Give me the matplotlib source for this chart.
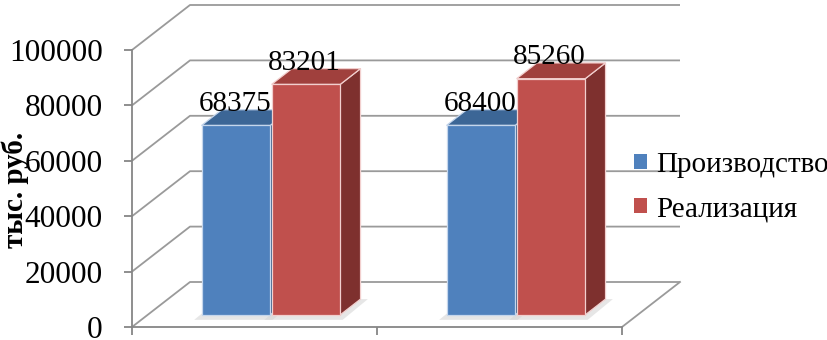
import matplotlib
matplotlib.use('Agg')
import matplotlib.pyplot as plt
from matplotlib.patches import Polygon, Patch

# ---- data ----
categories = ['', '']
series_names = ['Производство', 'Реализация']
production = [68375, 68400]
sales = [83201, 85260]
yticks = [0, 20000, 40000, 60000, 80000, 100000]
ytick_labels = ['0', '20000', '40000', '60000', '80000', '100000']
ylabel = 'тыс. руб.'

plt.rcParams['font.family'] = ['Liberation Serif', 'DejaVu Serif']

W, H = 828, 340
fig = plt.figure(figsize=(W / 100, H / 100), dpi=100)

# frame geometry (pixels)
x_left, x_right = 132, 680
y_bottom, y_top = 327, 5
px_per_cat = 245.0
px_per_unit = 277.0 / 100000
back_dx_px, back_dy_px = 58, 45

ax = fig.add_axes([x_left / W, 1 - y_bottom / H, (x_right - x_left) / W, (y_bottom - y_top) / H])
ymax = (y_bottom - y_top) / px_per_unit
xmin = -0.5
xmax = xmin + (x_right - x_left) / px_per_cat
ax.set_xlim(xmin, xmax)
ax.set_ylim(0, ymax)
ax.set_facecolor('none')

bdx = back_dx_px / px_per_cat
bdy = back_dy_px / px_per_unit
ncat = len(categories)
x_lo, x_hi = -0.5, ncat - 0.5

grid_c = '#9a9a9a'
# walls / gridlines
for v in yticks:
    ax.plot([x_lo, x_lo + bdx, x_hi + bdx], [v, v + bdy, v + bdy], color=grid_c, lw=1.3,
            zorder=1, clip_on=False, solid_capstyle='butt')
# floor right edge
ax.plot([x_hi, x_hi + bdx], [0, bdy], color=grid_c, lw=1.3, zorder=1, clip_on=False)

# ---- bars ----
t1, t2 = 0.27, 0.62
w = 0.28
colors = {
    0: dict(front='#4F81BD', top='#3C6696', side='#345A86', edge='#C5D6EC'),
    1: dict(front='#C0504D', top='#A0403D', side='#7E302E', edge='#F2CFCE'),
}
series = [production, sales]


def P(x, y, t):
    return (x + t * bdx, y + t * bdy)


for i in range(ncat):
    for s, vals in enumerate(series):
        v = vals[i]
        x0 = i - w + s * (w + 0.006)
        x1 = x0 + w
        c = colors[s]
        # floor shadow
        sh = [P(x0 - 0.03, -1800, t1), P(x1 + 0.01, -1800, t1), P(x1 + 0.03, 0, t2), P(x0 - 0.01, 0, t2)]
        ax.add_patch(Polygon(sh, closed=True, facecolor='#d6d6d6', edgecolor='none', alpha=0.6, zorder=2))
        side = [P(x1, 0, t1), P(x1, 0, t2), P(x1, v, t2), P(x1, v, t1)]
        top = [P(x0, v, t1), P(x1, v, t1), P(x1, v, t2), P(x0, v, t2)]
        front = [P(x0, 0, t1), P(x1, 0, t1), P(x1, v, t1), P(x0, v, t1)]
        for poly, fc in ((side, c['side']), (top, c['top']), (front, c['front'])):
            ax.add_patch(Polygon(poly, closed=True, facecolor=fc, edgecolor=c['edge'],
                                 lw=0.9, zorder=3 + i * 2 + s * 0.5, joinstyle='miter'))
        xc = (x0 + x1) / 2
        lx, ly = P(xc, v, t2)
        ax.annotate(str(v), xy=(xc + t1 * bdx - 0.005, ly), xytext=(0, -1), textcoords='offset points',
                    ha='center', va='baseline', fontsize=21, color='black', zorder=10,
                    annotation_clip=False)

# ---- axes styling ----
for sp in ('top', 'right'):
    ax.spines[sp].set_visible(False)
ax.spines['left'].set_bounds(0, 100000)
ax.spines['bottom'].set_bounds(x_lo, x_hi)
for sp in ('left', 'bottom'):
    ax.spines[sp].set_color('#868686')
    ax.spines[sp].set_linewidth(1.3)
    ax.spines[sp].set_zorder(1)
ax.set_yticks(yticks)
ax.set_yticklabels(ytick_labels)
ax.tick_params(axis='y', direction='out', length=6, width=1.3, color='#868686',
               labelsize=22.5, pad=15)
for lab in ax.get_yticklabels():
    lab.set_verticalalignment('center_baseline')
ax.set_xticks([x_lo + k for k in range(ncat + 1)])
ax.set_xticklabels([''] * (ncat + 1))
ax.tick_params(axis='x', direction='out', length=6, width=1.3, color='#868686')

fig.text(15 / W, 1 - 190 / H, ylabel, rotation=90, ha='center', va='center',
         fontsize=21, fontweight='bold')

handles = [Patch(facecolor=colors[0]['front'], edgecolor='none'),
           Patch(facecolor=colors[1]['front'], edgecolor='none')]
fig.legend(handles, series_names, loc='center left', bbox_to_anchor=(634 / W, 1 - 187 / H),
           frameon=False, fontsize=21, handlelength=0.45, handleheight=0.45,
           handletextpad=0.3, labelspacing=0.62, borderpad=0, borderaxespad=0)

fig.savefig('out.png', dpi=100)
